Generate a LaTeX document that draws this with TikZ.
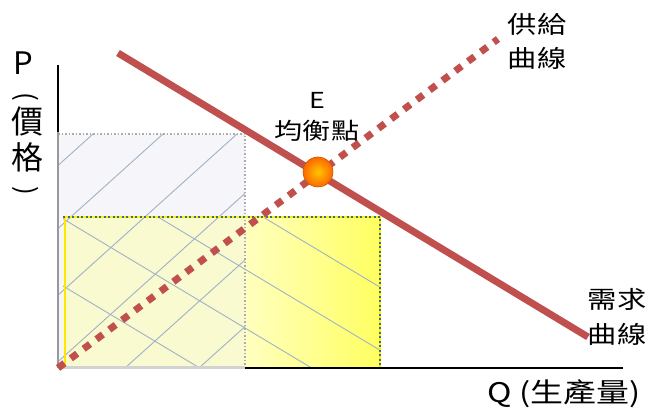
\documentclass[tikz,border=0pt]{standalone}
\usepackage{fontspec}
\setmainfont{Noto Sans CJK TC}
\newcommand\widetxt[1]{\scalebox{1.22}[1]{#1}}
\definecolor{curvered}{HTML}{C0504D}
\definecolor{hatchblue}{HTML}{9FB3C8}
\definecolor{greyfill}{HTML}{F6F6FA}
\definecolor{paleyellow}{HTML}{FAFAD0}
\definecolor{dotgreen}{HTML}{3C6E7A}
\tikzset{
  lab/.style={inner sep=0pt, text=black},
  hatch/.style={draw=hatchblue, line width=0.9pt},
  curve/.style={draw=curvered, line width=7pt},
  yellowedge/.style={draw=yellow, line width=2.5pt},
  greenedge/.style={draw=dotgreen, line width=2pt, dash pattern=on 2pt off 2.5pt},
}
\begin{document}
\begin{tikzpicture}[x=1pt,y=-1pt]
\useasboundingbox (0,0) rectangle (654,411);
% named points
\coordinate (O) at (58,368);
\coordinate (ytop) at (58,65);
\coordinate (ybreak) at (58,132);
\coordinate (xbreak) at (245,368);
\coordinate (xend) at (623,368);
\coordinate (S1) at (58,368);
\coordinate (S2) at (498,39);
\coordinate (D1) at (118,53);
\coordinate (D2) at (588,337);
% areas
\fill[greyfill] (58,134) rectangle (245,368);
\fill[paleyellow] (63,217) rectangle (245,368);
\shade[left color=yellow!25!white, right color=yellow!62!white] (245,217) rectangle (380,368);
% hatching
\begin{scope}
  \clip (58,134) rectangle (245,368);
  \foreach \xt in {20,93,163,237,311,385,459}
    \draw[hatch] (\xt-260,368) -- (\xt,134);
\end{scope}
\begin{scope}
  \clip (63,217) rectangle (380,368);
  \foreach \xt in {-52,60,158,263}
    \draw[hatch] (\xt,217) -- (\xt+251.7,368);
\end{scope}
% borders
\draw[gray!65, line width=1.5pt, dotted] (58,134) -- (245,134) -- (245,368);
\draw[yellowedge] (63,217) -- (380,217) -- (380,368);
\draw[greenedge] (63,217) -- (380,217) -- (380,368);
\draw[yellow!90!orange, line width=2pt] (64.5,218) -- (64.5,368);
% axes
\draw[black, line width=2.5pt] (ytop) -- (ybreak);
\draw[gray!80, line width=2.5pt] (ybreak) -- (O);
\draw[gray!35, line width=3pt] (O) -- (xbreak);
\draw[black, line width=2.5pt] (xbreak) -- (xend);
% curves
\draw[curve, dash pattern=on 8pt off 8pt] (S1) -- (S2);
\draw[curve] (D1) -- (D2);
% equilibrium point
\shade[inner color=yellow!55!orange, outer color=orange!80!red, draw=orange!75!black, line width=0.6pt] (318,172) circle (15);
\node[lab] (E) at (318,172) {};
% labels
\node[lab, font=\fontsize{31}{31}\selectfont] (P) at (23,63) {P};
\node[lab, font=\fontsize{26}{26}\selectfont] (lp) at (26,97) {\rotatebox{-90}{(}};
\node[lab, font=\fontsize{32}{32}\selectfont] (jia) at (27,121) {價};
\node[lab, font=\fontsize{32}{32}\selectfont] (ge) at (27,157) {格};
\node[lab, font=\fontsize{26}{26}\selectfont] (rp) at (26,191) {\rotatebox{-90}{)}};
\node[lab, font=\fontsize{22}{22}\selectfont] (Elab) at (317,100) {\widetxt{E}};
\node[lab, font=\fontsize{23}{23}\selectfont] (eqlab) at (317,131) {\widetxt{均衡點}};
\node[lab, font=\fontsize{24}{24}\selectfont] (sup1) at (537,24) {\widetxt{供給}};
\node[lab, font=\fontsize{24}{24}\selectfont] (sup2) at (537,58) {\widetxt{曲線}};
\node[lab, font=\fontsize{24}{24}\selectfont] (dem1) at (617,299) {\widetxt{需求}};
\node[lab, font=\fontsize{24}{24}\selectfont] (dem2) at (617,334) {\widetxt{曲線}};
\node[lab, font=\fontsize{27}{27}\selectfont] (Q) at (564,394) {\widetxt{Q (生產量)}};
\end{tikzpicture}
\end{document}
